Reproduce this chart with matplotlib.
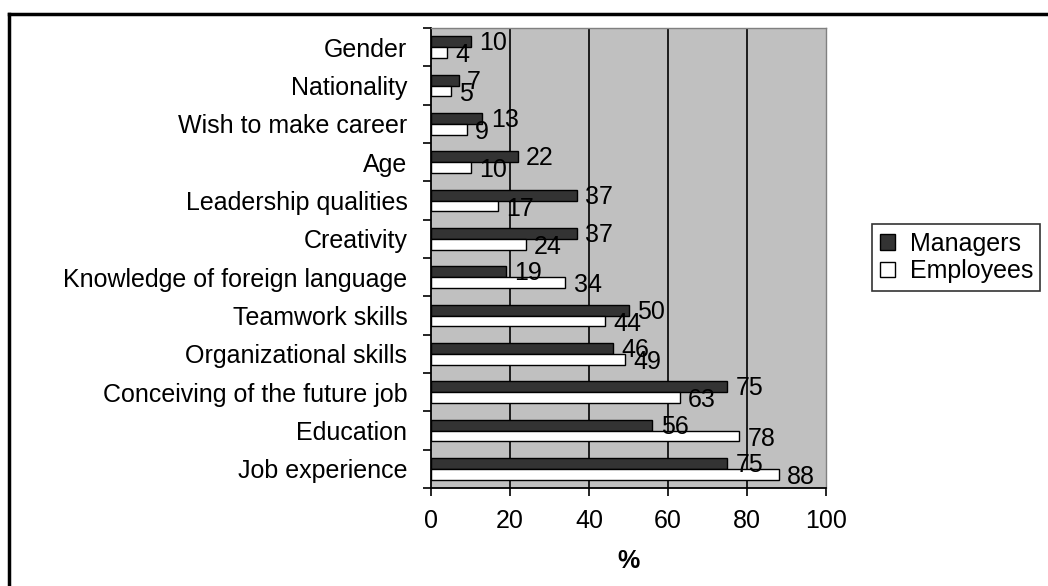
import numpy as np
import matplotlib.pyplot as plt
from matplotlib.lines import Line2D

# Kategorien (von oben nach unten)
categories = ["Gender", "Nationality", "Wish to make career", "Age",
              "Leadership qualities", "Creativity",
              "Knowledge of foreign language", "Teamwork skills",
              "Organizational skills", "Conceiving of the future job",
              "Education", "Job experience"]
managers = [10, 7, 13, 22, 37, 37, 19, 50, 46, 75, 56, 75]
employees = [4, 5, 9, 10, 17, 24, 34, 44, 49, 63, 78, 88]
x_ticks = [0, 20, 40, 60, 80, 100]

plt.rcParams['font.family'] = ['Liberation Sans', 'DejaVu Sans']
fs = 18

fig = plt.figure(figsize=(10.48, 5.86), dpi=100)
ax = fig.add_axes([431/1048, 1 - 488/586, 395/1048, 460/586])

n = len(categories)
y = np.arange(n)[::-1].astype(float)
h = 0.28

ax.set_facecolor('#c0c0c0')
for g in x_ticks[1:-1]:
    ax.axvline(g, color='black', lw=1.2, zorder=1)

b1 = ax.barh(y + h/2, managers, height=h, color='#333333', edgecolor='black', lw=1, zorder=3, label='Managers')
b2 = ax.barh(y - h/2, employees, height=h, color='white', edgecolor='black', lw=1, zorder=3, label='Employees')

for rect, v in zip(b1, managers):
    ax.annotate(str(v), (v, rect.get_y() + rect.get_height()/2), xytext=(6, -1),
                textcoords='offset points', va='center', ha='left', fontsize=fs, zorder=5)
for rect, v in zip(b2, employees):
    ax.annotate(str(v), (v, rect.get_y() + rect.get_height()/2), xytext=(6, -2),
                textcoords='offset points', va='center', ha='left', fontsize=fs, zorder=5)

ax.set_xlim(0, 100)
ax.set_ylim(-0.5, n - 0.5)
ax.set_xticks(x_ticks)
ax.tick_params(axis='x', labelsize=fs, direction='out', length=6, width=1.2, pad=9)
ax.set_yticks(y)
ax.set_yticklabels(categories, fontsize=fs)
ax.tick_params(axis='y', which='major', length=0, pad=17)
ax.set_yticks(np.arange(-0.5, n), minor=True)
ax.tick_params(axis='y', which='minor', length=6, width=1.2, direction='out')
ax.set_xlabel('%', fontsize=fs, fontweight='bold', labelpad=12)

for s in ['left', 'bottom']:
    ax.spines[s].set_color('black')
    ax.spines[s].set_linewidth(1.3)
for s in ['top', 'right']:
    ax.spines[s].set_color('#808080')
    ax.spines[s].set_linewidth(1)

leg = fig.legend(handles=[b1, b2], loc='upper left', bbox_to_anchor=(872/1048, 1 - 224/586),
                 fontsize=fs, frameon=True, fancybox=False, edgecolor='black',
                 handlelength=0.6, handleheight=0.6, handletextpad=0.6,
                 borderpad=0.3, labelspacing=0.15, borderaxespad=0)
leg.get_frame().set_linewidth(1.2)

# Rahmen um das Diagramm
fig.add_artist(Line2D([9/1048, 9/1048], [0, 1 - 14/586], color='black', lw=2.5, transform=fig.transFigure))
fig.add_artist(Line2D([9/1048, 1], [1 - 14/586, 1 - 14/586], color='black', lw=2.5, transform=fig.transFigure))

plt.savefig('out.png', dpi=100)
